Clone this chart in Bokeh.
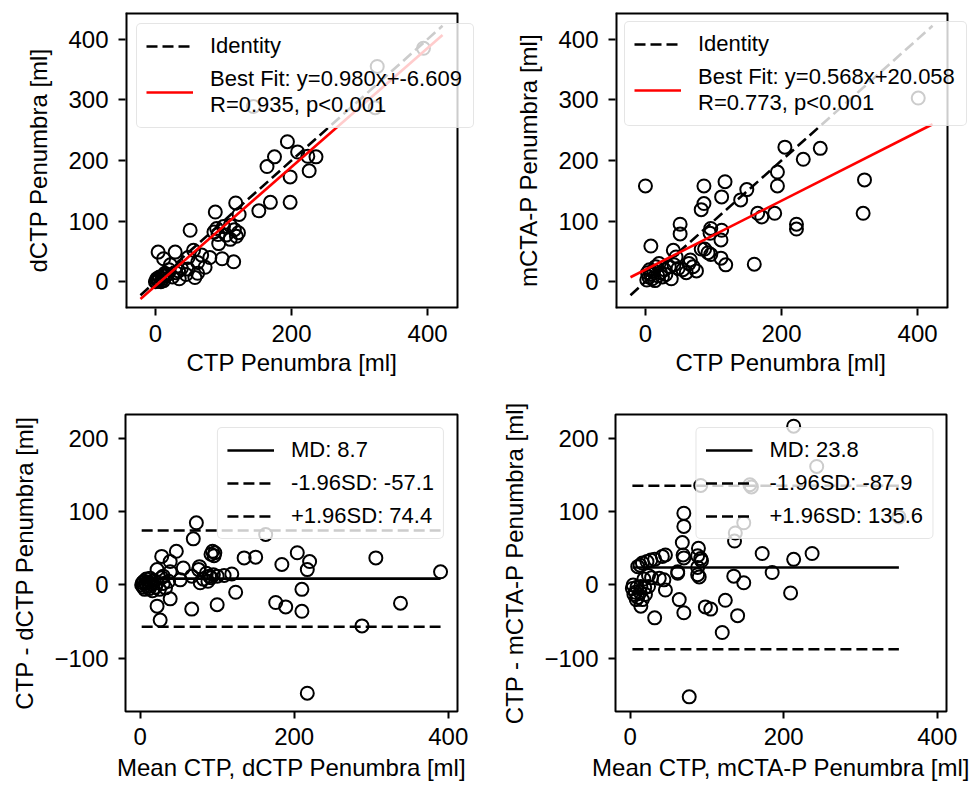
from bokeh.plotting import figure
from bokeh.models import Legend, LegendItem, FixedTicker, Range1d, Title
from bokeh.layouts import column, row
from bokeh.embed import file_html
from bokeh.resources import INLINE

FONT = "Liberation Sans"

# ---------------- data ----------------
# Panel 1: CTP vs dCTP penumbra [ml]
ctp_d = [394, 326, 144, 323,
         194, 209, 224, 236, 175, 164, 198, 226,
         169, 198, 152, 118, 88, 123,
         51, 90, 100, 110, 116, 92, 104, 119, 122, 93, 110, 86,
         4, 29, 12, 56, 68, 98, 115, 73, 48, 34, 58, 45, 62, 30, 25, 35, 20, 15,
         10, 5, 3, 8, 2, 12, 18, 38, 62, 80, 48, 22, 1, 6, 0, 14, 11]
dctp = [385, 355, 289, 287,
        231, 214, 207, 206, 206, 190, 173, 183,
        131, 131, 117, 130, 115, 111,
        85, 88, 91, 93, 86, 78, 77, 75, 81, 63, 70, 82,
        49, 49, 38, 52, 44, 38, 33, 24, 21, 18, 7, 12, 14, 15, 8, 5, 20, 10,
        5, 2, 3, 0, 5, 2, 12, 22, 32, 40, 40, 28, 1, 8, 0, 14, 10]

# Panel 2: CTP vs mCTA-P penumbra [ml]
ctp_m = [0, 205, 257, 232, 322, 320, 194, 194, 149, 117, 86, 112, 140, 86, 82,
         165, 171, 190, 222, 222, 51, 51, 96, 95, 112, 111, 8, 41, 45, 82, 87, 92,
         96, 64, 66, 111, 118, 160, 401,
         42, 48, 35, 28, 22, 18, 15, 12, 10, 8, 5, 3, 2, 6, 14, 20, 25, 30, 38,
         55, 60, 70, 75]
mcta = [158, 222, 220, 202, 168, 113, 181, 158, 152, 165, 158, 140, 135, 129, 119,
        113, 107, 113, 95, 87, 95, 79, 88, 80, 85, 69, 59, 52, 41, 54, 54, 48,
        45, 30, 36, 39, 28, 29, 303,
        28, 22, 25, 20, 15, 10, 25, 18, 5, 12, 8, 15, 3, 20, 2, 30, 8, 12, 5,
        20, 15, 25, 18]

# Panel 3: Bland-Altman CTP vs dCTP (mean, difference)
ba_d_mean = [73, 69, 163, 47, 28, 39, 94, 97, 92, 96, 135, 150, 204, 220, 217, 184,
             306, 390, 210, 176, 189, 210, 338, 288, 217, 100, 124, 67, 39, 22, 26,
             119, 109, 77, 76, 56, 39, 22, 86, 90, 95, 100, 92, 52, 67, 30, 37, 78,
             88, 82,
             2, 3, 4, 5, 6, 7, 8, 9, 10, 12, 13, 15, 16, 18, 20, 22, 25, 28, 30, 33]
ba_d_diff = [85, 63, 69, 46, 39, 32, 46, 44, 42, 40, 37, 38, 44, 32, 21, 28,
             37, 18, -6, -24, -30, -36, -25, -56, -148, -27, -10, -33, -19, -29, -48,
             15, 13, 25, 21, 23, 18, 21, 16, 12, 14, 12, 10, 7, 12, 12, 5, 3,
             5, 8,
             0, 3, -3, 5, -6, 2, 8, -2, 4, -5, 9, 1, -8, 6, -3, 3, -6, 10, 2, -4]

# Panel 4: Bland-Altman CTP vs mCTA-P (mean, difference)
ba_m_mean = [213, 243, 92, 156, 158, 148, 350, 70, 70, 137, 136, 68, 89, 88, 92, 93,
             69, 70, 46, 42, 32, 27, 22, 16, 13, 10, 172, 213, 237, 185, 209, 135,
             148, 62, 62, 88, 90, 88, 38, 44, 46, 64, 70, 98, 105, 124, 140, 120,
             32, 14, 77, 5, 10, 16, 8, 20, 4, 3, 9, 14, 19, 24, 7, 13, 28, 24, 18]
ba_m_diff = [217, 162, 136, 137, 134, 85, 93, 98, 80, 71, 60, 58, 50, 40, 36, 33,
             41, 37, 41, 39, 35, 34, 32, 30, 27, 25, 43, 35, 43, 17, -11, 12,
             3, 18, 16, 14, 11, 24, 9, 7, -7, -20, -38, -30, -33, -21, -42, -65,
             -45, -29, -153, -13, -17, -20, -20, -13, 0, -5, -3, -2, -4, -2, -10, -10,
             10, 13, 8]

# fitted lines (from the legend texts) and the span they are drawn over
LINE_X = [-22, 422]
fit_d = (0.980, -6.609)
fit_m = (0.568, 20.058)
ba_d_stats = (8.7, -57.1, 74.4)
ba_m_stats = (23.8, -87.9, 135.6)

# axis limits
XY_LIM = (-44, 444)
BA_X = (-19, 412)
BA_Y = (-173, 233)

# ---------------- styling helpers ----------------
TICK_PX = "24px"
LABEL_PX = "24px"
LEG_PX = "22px"


def make_fig(width, height, xr, yr, bl, br, bt, bb, outline=True):
    p = figure(width=width, height=height, x_range=Range1d(*xr), y_range=Range1d(*yr),
               output_backend="svg", toolbar_location=None, tools="")
    p.min_border_left = bl
    p.min_border_right = br
    p.min_border_top = bt
    p.min_border_bottom = bb
    p.grid.visible = False
    p.outline_line_color = "black" if outline else None
    p.outline_line_width = 2
    p.background_fill_color = "white"
    p.border_fill_color = "white"
    return p


def style_axes(p, xlabel, ylabel, xticks, yticks):
    if xlabel:
        p.xaxis.axis_label = xlabel
    p.yaxis.axis_label = ylabel
    p.xaxis.ticker = FixedTicker(ticks=xticks)
    p.yaxis.ticker = FixedTicker(ticks=yticks)
    for ax in (p.xaxis[0], p.yaxis[0]):
        ax.axis_line_color = None
        ax.major_tick_out = 7
        ax.major_tick_in = 0
        ax.major_tick_line_width = 2
        ax.major_tick_line_color = "black"
        ax.minor_tick_line_color = None
        ax.major_label_text_font = FONT
        ax.major_label_text_font_size = TICK_PX
        ax.major_label_text_color = "black"
        ax.axis_label_text_font = FONT
        ax.axis_label_text_font_size = LABEL_PX
        ax.axis_label_text_font_style = "normal"
        ax.axis_label_text_color = "black"
    p.xaxis.major_label_standoff = 9
    p.xaxis.axis_label_standoff = 6
    p.yaxis.major_label_standoff = 10
    p.yaxis.axis_label_standoff = 13
    over = {t: ("\u2212" + str(abs(t)) if t < 0 else str(t)) for t in yticks}
    p.yaxis.major_label_overrides = over


def style_legend(leg, loc, margin, label_width=20):
    leg.location = loc
    leg.margin = margin
    leg.label_text_font = FONT
    leg.label_text_font_size = LEG_PX
    leg.label_text_color = "black"
    leg.label_text_line_height = 1.1
    leg.glyph_width = 47
    leg.glyph_height = 24
    leg.label_height = 24
    leg.label_width = label_width
    leg.label_standoff = 17
    leg.padding = 9
    leg.spacing = 7
    leg.background_fill_color = "white"
    leg.background_fill_alpha = 0.8
    leg.border_line_color = "#cccccc"
    leg.border_line_width = 1.5
    if "border_radius" in Legend.properties():
        leg.border_radius = 5


def axes_box(p, lim):
    # frame of the axes box (the plot area extends further to the right so the
    # legend may overhang the box, as in the reference)
    lo, hi = lim
    p.segment(x0=[lo, lo, lo, hi], y0=[lo, lo, hi, lo],
              x1=[lo, hi, hi, hi], y1=[hi, lo, hi, hi],
              line_color="black", line_width=[4, 4, 4, 2])


def x_title(p, text, offset):
    t = Title(text=text, align="left", offset=offset, text_font=FONT,
              text_font_size=LABEL_PX, text_font_style="normal", text_color="black",
              standoff=4)
    p.add_layout(t, "below")


def scatter_panel(p, x, y, fit, fit_text):
    p.scatter(x, y, size=13, fill_color=None, line_color="black", line_width=2)
    ident = p.line(LINE_X, LINE_X, line_color="black", line_width=2.6, line_dash="11 5")
    fy = [fit[0] * v + fit[1] for v in LINE_X]
    fl = p.line(LINE_X, fy, line_color="red", line_width=2.6)
    leg = Legend(items=[LegendItem(label="Identity", renderers=[ident]),
                        LegendItem(label=fit_text, renderers=[fl])])
    p.add_layout(leg, "center")
    return leg


def ba_panel(p, mean, diff, stats):
    p.scatter(mean, diff, size=13, fill_color=None, line_color="black", line_width=2)
    xs = [min(mean), max(mean)]
    md, lo, hi = stats
    r_md = p.line(xs, [md, md], line_color="black", line_width=2.6)
    r_lo = p.line(xs, [lo, lo], line_color="black", line_width=2.6, line_dash="11 5")
    r_hi = p.line(xs, [hi, hi], line_color="black", line_width=2.6, line_dash="11 5")
    leg = Legend(items=[LegendItem(label=f"MD: {md}", renderers=[r_md]),
                        LegendItem(label=f"-1.96SD: {lo}", renderers=[r_lo]),
                        LegendItem(label=f"+1.96SD: {hi}", renderers=[r_hi])])
    p.add_layout(leg, "center")
    return leg


# ---------------- figures ----------------
PX_PER_UNIT = 332 / (XY_LIM[1] - XY_LIM[0])
FRAME1_W = 370
FRAME2_W = 360
x1_range = (XY_LIM[0], XY_LIM[0] + FRAME1_W / PX_PER_UNIT)
x2_range = (XY_LIM[0], XY_LIM[0] + FRAME2_W / PX_PER_UNIT)

p1 = make_fig(498, 397, x1_range, XY_LIM, 125, 498 - 125 - FRAME1_W, 12, 89, outline=False)
style_axes(p1, None, "dCTP Penumbra [ml]", [0, 200, 400], [0, 100, 200, 300, 400])
axes_box(p1, XY_LIM)
l1 = scatter_panel(p1, ctp_d, dctp, fit_d, "Best Fit: y=0.980x+-6.609\nR=0.935, p<0.001")
style_legend(l1, "top_left", 11, label_width=254)
x_title(p1, "CTP Penumbra [ml]", 61)

p2 = make_fig(477, 397, x2_range, XY_LIM, 117, 477 - 117 - FRAME2_W, 12, 89, outline=False)
style_axes(p2, None, "mCTA-P Penumbra [ml]", [0, 200, 400], [0, 100, 200, 300, 400])
axes_box(p2, XY_LIM)
l2 = scatter_panel(p2, ctp_m, mcta, fit_m, "Best Fit: y=0.568x+20.058\nR=0.773, p<0.001")
style_legend(l2, "top_left", 9, label_width=259)
x_title(p2, "CTP Penumbra [ml]", 60)

p3 = make_fig(498, 390, BA_X, BA_Y, 125, 41, 17, 76)
style_axes(p3, "Mean CTP, dCTP Penumbra [ml]", "CTP - dCTP Penumbra [ml]", [0, 200, 400], [-100, 0, 100, 200])
l3 = ba_panel(p3, ba_d_mean, ba_d_diff, ba_d_stats)
style_legend(l3, "top_right", 13)

p4 = make_fig(477, 390, BA_X, BA_Y, 117, 29, 17, 76)
style_axes(p4, "Mean CTP, mCTA-P Penumbra [ml]", "CTP - mCTA-P Penumbra [ml]", [0, 200, 400], [-100, 0, 100, 200])
l4 = ba_panel(p4, ba_m_mean, ba_m_diff, ba_m_stats)
style_legend(l4, "top_right", 13)

layout = column(row(p1, p2), row(p3, p4))

open("out.html", "w").write(file_html(layout, INLINE))
